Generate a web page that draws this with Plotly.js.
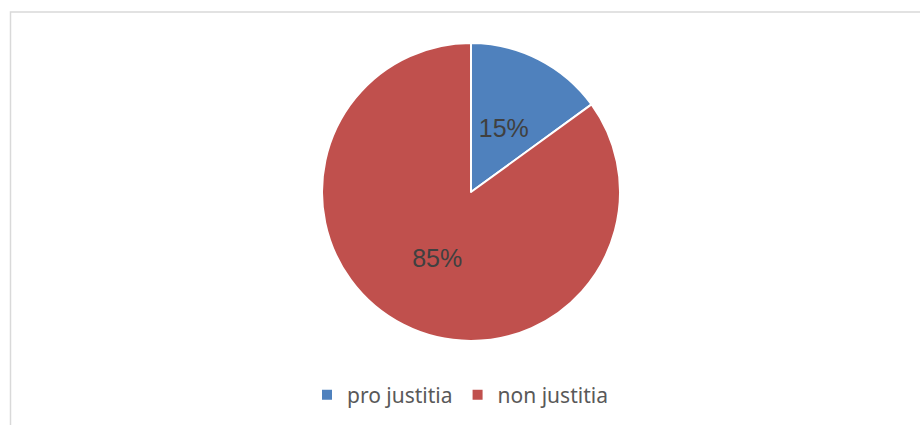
<!DOCTYPE html>
<html>
<head>
<meta charset="utf-8">
<script src="https://cdn.plot.ly/plotly-3.0.1.min.js"></script>
<style>html,body{margin:0;padding:0;background:#fff;}#chart{width:920px;height:425px;}</style>
</head>
<body>
<div id="chart"></div>
<script>
const categories = ["pro justitia", "non justitia"];
const values = [15, 85];
const colors = ["#4F81BD", "#C0504D"];

const W = 920, H = 425;
const cx = 471, cy = 192, r = 149;
const rSmall = 105; // label ring for the small slice

function dom(rad) {
  return {x: [(cx - rad) / W, (cx + rad) / W], y: [1 - (cy + rad) / H, 1 - (cy - rad) / H]};
}

const textFont = {family: "Liberation Sans, Arial, sans-serif", size: 25, color: "#404040"};

const trace = {
  type: "pie",
  labels: categories,
  values: values,
  sort: false,
  direction: "clockwise",
  rotation: 0,
  marker: {colors: colors, line: {color: "#ffffff", width: 2}},
  textinfo: "percent",
  texttemplate: ["", "%{percent:.0%}"],
  textposition: "inside",
  insidetextorientation: "horizontal",
  textfont: textFont,
  hoverinfo: "none",
  domain: dom(r)
};

const labelTrace = {
  type: "pie",
  labels: categories,
  values: values,
  sort: false,
  direction: "clockwise",
  rotation: 0,
  showlegend: false,
  marker: {colors: ["rgba(0,0,0,0)", "rgba(0,0,0,0)"], line: {width: 0}},
  textinfo: "percent",
  texttemplate: ["%{percent:.0%}", ""],
  textposition: "inside",
  insidetextorientation: "horizontal",
  textfont: textFont,
  hoverinfo: "none",
  domain: dom(rSmall)
};

const layout = {
  width: W, height: H,
  margin: {l: 0, r: 0, t: 0, b: 0},
  paper_bgcolor: "#ffffff",
  showlegend: true,
  legend: {
    orientation: "h", x: 0.5, xanchor: "center", y: 1 - 395 / H, yanchor: "middle",
    font: {family: "Noto Sans, Open Sans, sans-serif", size: 21, color: "#595959"},
    itemwidth: 30, traceorder: "normal"
  },
  shapes: [{
    type: "rect", xref: "paper", yref: "paper",
    x0: 10.5 / W, x1: 1.02, y0: -0.02, y1: 1 - 12 / H,
    line: {color: "#d9d9d9", width: 1.5}, fillcolor: "rgba(0,0,0,0)", layer: "below"
  }]
};

Plotly.newPlot("chart", [trace, labelTrace], layout, {staticPlot: true, displayModeBar: false});
</script>
</body>
</html>
